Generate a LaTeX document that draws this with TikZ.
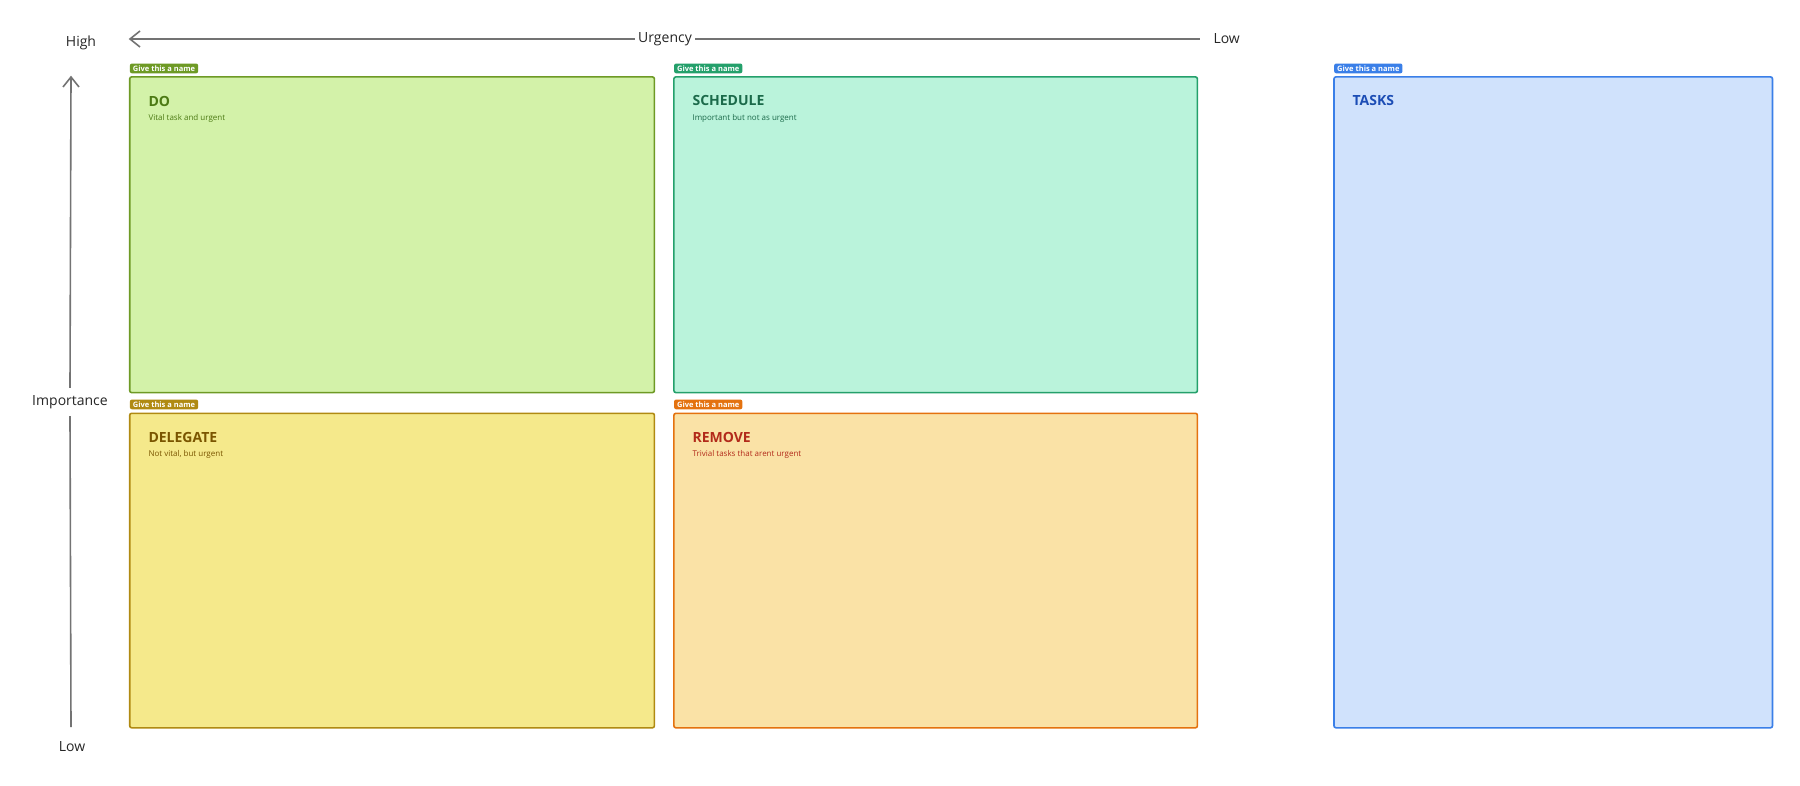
\documentclass[tikz,border=0pt]{standalone}
\usetikzlibrary{calc}
\usepackage{fontspec}
\setmainfont{Open Sans}
\begin{document}
\begin{tikzpicture}[x=1pt,y=-1pt,
 box/.style={draw, line width=1.6pt, rounded corners=2pt},
 tag/.style={rounded corners=2pt, text=white, font=\fontsize{7.5}{8}\selectfont\bfseries, inner xsep=3pt, inner ysep=2pt, anchor=south west},
 ttl/.style={anchor=west, font=\fontsize{14}{16}\selectfont\bfseries},
 sub/.style={anchor=west, font=\fontsize{8}{9}\selectfont},
 ax/.style={draw=gray!90!black, line width=1.6pt},
 lbl/.style={font=\fontsize{14}{16}\selectfont, text=black!85}]
\definecolor{doF}{HTML}{D3F2A9}\definecolor{doB}{HTML}{6E9A25}\definecolor{doT}{HTML}{4C7A14}
\definecolor{scF}{HTML}{BAF3DB}\definecolor{scB}{HTML}{24A06B}\definecolor{scT}{HTML}{1B6A4A}
\definecolor{deF}{HTML}{F5E98B}\definecolor{deB}{HTML}{B08A12}\definecolor{deT}{HTML}{7A5500}
\definecolor{reF}{HTML}{FAE2A6}\definecolor{reB}{HTML}{E4720F}\definecolor{reT}{HTML}{B22A1A}
\definecolor{taF}{HTML}{D0E2FC}\definecolor{taB}{HTML}{3A7FE8}\definecolor{taT}{HTML}{1C4DB5}
\useasboundingbox[fill=white] (0,0) rectangle (1800,786);
% boxes
\draw[box, fill=doF, draw=doB] (129.7,76.9) rectangle (654.4,392.6);
\draw[box, fill=scF, draw=scB] (673.9,76.9) rectangle (1197.4,392.6);
\draw[box, fill=deF, draw=deB] (129.7,413.3) rectangle (654.4,727.8);
\draw[box, fill=reF, draw=reB] (673.9,413.3) rectangle (1197.4,727.8);
\draw[box, fill=taF, draw=taB] (1334,76.9) rectangle (1772.5,727.8);
% tags
\node[tag, fill=doB] (t1) at (129.7,73.5) {Give this a name};
\node[tag, fill=scB] (t2) at (673.9,73.5) {Give this a name};
\node[tag, fill=deB] (t3) at (129.7,409.5) {Give this a name};
\node[tag, fill=reB] (t4) at (673.9,409.5) {Give this a name};
\node[tag, fill=taB] (t5) at (1334,73.5) {Give this a name};
% titles
\node[ttl, text=doT] (h1) at (145,101) {DO};
\node[sub, text=doT] (s1) at (145,118) {Vital task and urgent};
\node[ttl, text=scT] (h2) at (689,101) {SCHEDULE};
\node[sub, text=scT] (s2) at (689,118) {Important but not as urgent};
\node[ttl, text=deT] (h3) at (145,437) {DELEGATE};
\node[sub, text=deT] (s3) at (145,454) {Not vital, but urgent};
\node[ttl, text=reT] (h4) at (689,437) {REMOVE};
\node[sub, text=reT] (s4) at (689,454) {Trivial tasks that arent urgent};
\node[ttl, text=taT] (h5) at (1349,101) {TASKS};
% axes
\node[lbl] (urg) at (665,39) {Urgency};
\node[lbl, anchor=west] (lowx) at (1210,39) {Low};
\coordinate (ul) at (130,39);
\coordinate (ur) at (1200,39);
\draw[ax] (urg.west) -- (ul);
\draw[ax] ($(ul)+(10,-8)$) -- (ul) -- ($(ul)+(10,8)$);
\draw[ax] (urg.east) -- (ur);
\node[lbl] (high) at (81,43) {High};
\node[lbl] (imp) at (70,402) {Importance};
\node[lbl] (lowy) at (72,747) {Low};
\coordinate (vt) at (71,77);
\coordinate (vb) at (71,727);
\draw[ax] (imp.north) ++(0,-4) -- (vt);
\draw[ax] ($(vt)+(-8,10)$) -- (vt) -- ($(vt)+(8,10)$);
\draw[ax] (imp.south) ++(0,4) -- (vb);
\end{tikzpicture}
\end{document}
